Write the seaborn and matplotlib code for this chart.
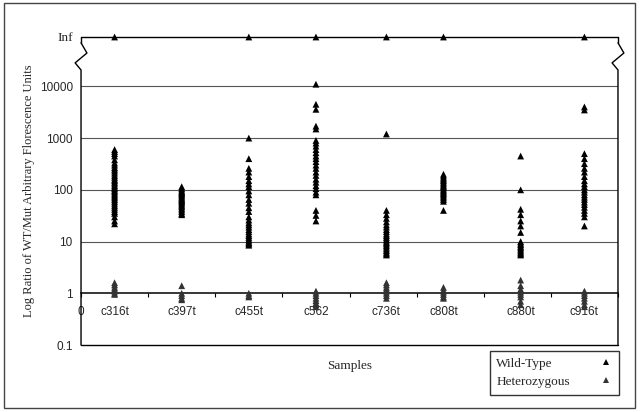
import numpy as np
import pandas as pd
import seaborn as sns
import matplotlib.pyplot as plt
from matplotlib.patches import Rectangle

sns.set_theme(style="white")
plt.rcParams['font.family'] = ['Liberation Sans', 'DejaVu Sans']

# data
samples = ["c316t", "c397t", "c455t", "c562", "c736t", "c808t", "c880t", "c916t"]

wild_type = {
    "c316t": [600, 550, 500, 450, 380, 330, 300, 270, 250, 230, 210, 190, 175, 160, 150,
              140, 130, 120, 112, 105, 98, 92, 86, 80, 75, 70, 65, 60, 55, 50, 46, 42,
              38, 35, 30, 25, 22],
    "c397t": [115, 105, 98, 92, 88, 84, 80, 76, 72, 68, 65, 62, 59, 56, 53, 50, 47, 44,
              41, 38, 35, 33],
    "c455t": [1000, 400, 260, 220, 180, 150, 130, 115, 95, 80, 65, 55, 45, 38, 30, 26,
              23, 21, 19, 17, 15.5, 14, 13, 12, 11, 10.2, 9.5, 9, 8.5],
    "c562": [11000, 4500, 3600, 1700, 1500, 900, 800, 700, 600, 520, 450, 400, 350, 300,
             260, 220, 190, 160, 140, 120, 105, 90, 80, 40, 32, 25],
    "c736t": [1200, 40, 33, 28, 24, 21, 19, 17, 15.5, 14, 13, 12, 11, 10.2, 9.5, 9, 8.4,
              7.8, 7.2, 6.7, 6.2, 5.8, 5.5],
    "c808t": [200, 185, 170, 160, 150, 140, 130, 122, 115, 108, 100, 95, 90, 85, 80, 75,
              70, 65, 60, 40],
    "c880t": [450, 100, 42, 33, 25, 20, 15, 10, 9.3, 8.7, 8.1, 7.6, 7.1, 6.6, 6.2, 5.8, 5.5],
    "c916t": [4000, 3500, 500, 400, 320, 260, 220, 180, 150, 130, 115, 100, 90, 80, 72, 65,
              58, 52, 46, 40, 35, 30, 20],
}
inf_samples = ["c316t", "c455t", "c562", "c736t", "c808t", "c916t"]

heterozygous = {
    "c316t": [1.6, 1.45, 1.3, 1.2, 1.1, 1.0, 0.95],
    "c397t": [1.4, 1.0, 0.9, 0.8, 0.75],
    "c455t": [1.0, 0.9, 0.85],
    "c562": [1.1, 1.0, 0.9, 0.8, 0.72, 0.65, 0.6, 0.55],
    "c736t": [1.6, 1.45, 1.3, 1.2, 1.1, 1.0, 0.9, 0.8],
    "c808t": [1.3, 1.15, 1.05, 0.95, 0.85, 0.8],
    "c880t": [1.8, 1.4, 1.2, 1.05, 0.95, 0.85, 0.7, 0.6],
    "c916t": [1.1, 1.0, 0.9, 0.8, 0.7, 0.6, 0.55],
}

# layout
x_pos = [0.5, 1.5, 2.5, 3.5, 4.55, 5.4, 6.55, 7.5]
INF_Y = 9e4  # where "Inf" sits on the log axis

rows = []
for s, xp in zip(samples, x_pos):
    for v in wild_type[s]:
        rows.append((xp, v, "Wild-Type"))
    if s in inf_samples:
        rows.append((xp, INF_Y, "Wild-Type"))
    for v in heterozygous[s]:
        rows.append((xp, v, "Heterozygous"))
df = pd.DataFrame(rows, columns=["x", "ratio", "Genotype"])

fig = plt.figure(figsize=(6.4, 4.12), dpi=100)
ax = fig.add_axes([0.1266, 0.1626, 0.839, 0.7476])

sns.scatterplot(data=df, x="x", y="ratio", hue="Genotype",
                palette={"Wild-Type": "black", "Heterozygous": "#333333"},
                marker="^", s=24, linewidth=0, clip_on=False, zorder=3, ax=ax)

ax.set_yscale("log")
ax.set_ylim(0.1, INF_Y)
ax.set_xlim(0, 8)
ax.set_yticks([0.1, 1, 10, 100, 1000, 10000, INF_Y],
              ["0.1", "1", "10", "100", "1000", "10000", "Inf"])
ax.minorticks_off()
ax.tick_params(axis="y", length=0, pad=6, labelsize=8.5)
inf_lbl = ax.get_yticklabels()[-1]
inf_lbl.set_family(["Liberation Serif"])
inf_lbl.set_fontsize(9.5)
ax.set_xticks([])

for v in [10, 100, 1000, 10000]:
    ax.axhline(v, color="#555555", lw=0.8, zorder=1)

for sp in ax.spines.values():
    sp.set_visible(False)
k = dict(color="black", lw=1, transform=ax.transAxes, clip_on=False)
ax.plot([0, 1], [0, 0], **k)
ax.plot([0, 1], [1, 1], **k)
ax.plot([0, 0, -0.011, 0.011, 0], [0, 0.893, 0.916, 0.948, 0.981], **k)
ax.plot([0, 0], [0.981, 1], **k)
ax.plot([1, 1, 0.989, 1.011, 1], [0, 0.893, 0.916, 0.948, 0.981], **k)
ax.plot([1, 1], [0.981, 1], **k)

# category axis crossing at 1
y1 = (np.log10(1) - np.log10(0.1)) / (np.log10(INF_Y) - np.log10(0.1))
sec = ax.secondary_xaxis(y1)
sec.spines["bottom"].set_linewidth(1.1)
sec.spines["bottom"].set_color("black")
sec.set_xticks(range(0, 9), ["0"] + [""] * 8)
sec.set_xticks(x_pos, samples, minor=True)
sec.tick_params(which="major", length=3, width=0.8, direction="out", labelsize=8.5, pad=6,
                color="black")
sec.tick_params(which="minor", length=0, labelsize=8.5, pad=9)

ax.set_xlabel("Samples", family=["Liberation Serif"], fontsize=9.5, labelpad=11)
ax.set_ylabel("Log Ratio of WT/Mut Arbitrary Florescence Units",
              family=["Liberation Serif"], fontsize=9, labelpad=3)

sns.move_legend(ax, loc="upper right", bbox_to_anchor=(0.967, 0.148),
                bbox_transform=fig.transFigure, title=None, frameon=True,
                markerfirst=False, fancybox=False, edgecolor="black",
                prop={"family": "Liberation Serif", "size": 9.5},
                handletextpad=2.2, borderpad=0.5, labelspacing=0.45,
                handlelength=1.0, borderaxespad=0, markerscale=0.8)
leg = ax.get_legend()
leg.get_frame().set_linewidth(1)

# left-align the legend labels, keep markers in a right column
fig.canvas.draw()
r = fig.canvas.get_renderer()
px_per_pt = fig.dpi / 72.0
rows_ = [row for col in leg._legend_handle_box.get_children() for row in col.get_children()]
widths = [row.get_children()[0].get_children()[0].get_window_extent(r).width for row in rows_]
wmax = max(widths)
for row, w in zip(rows_, widths):
    row.sep = row.sep + (wmax - w) / px_per_pt

fig.patches.append(Rectangle((0.00625, 0.0097), 0.986, 0.983, transform=fig.transFigure,
                             fill=False, edgecolor="#444444", lw=1))

fig.savefig("out.png", dpi=100)
